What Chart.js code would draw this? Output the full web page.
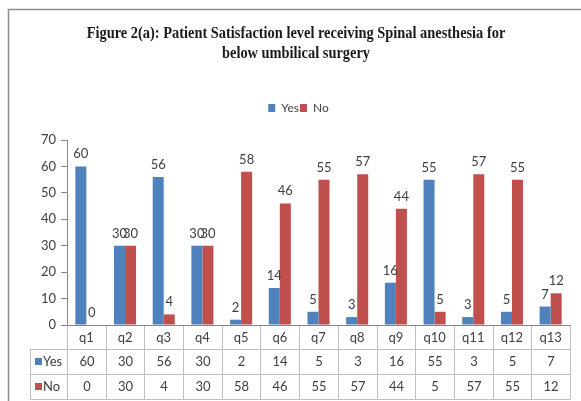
<!DOCTYPE html>
<html><head><meta charset="utf-8">
<script src="https://cdn.jsdelivr.net/npm/chart.js@4"></script>
<style>html,body{margin:0;padding:0;background:#fff}#wrap{width:581px;height:401px}</style>
</head><body><div id="wrap"><canvas id="c" width="581" height="401"></canvas></div>
<script>
const categories = ['q1','q2','q3','q4','q5','q6','q7','q8','q9','q10','q11','q12','q13'];
const yesValues = [60,30,56,30,2,14,5,3,16,55,3,5,7];
const noValues  = [0,30,4,30,58,46,55,57,44,5,57,55,12];
const seriesNames = ['Yes','No'];
const seriesColors = ['#4F81BD','#C0504D'];
const titleLines = ['Figure 2(a): Patient Satisfaction level receiving Spinal anesthesia for','below umbilical surgery'];
const yMin = 0, yMax = 70, yStep = 10;

const FONT = 'Lato';
const TEXT = '#404040';

const legendSpacer = {
  id: 'legendSpacer',
  beforeInit(chart) {
    const lg = chart.legend;
    if (!lg) return;
    const orig = lg.fit;
    lg.fit = function() { orig.call(this); this.height += 16; };
  }
};

const dataLabels = {
  id: 'dataLabels',
  afterDatasetsDraw(chart) {
    const ctx = chart.ctx;
    ctx.save();
    ctx.font = '13px ' + FONT;
    ctx.fillStyle = TEXT;
    ctx.textAlign = 'center';
    ctx.textBaseline = 'alphabetic';
    chart.data.datasets.forEach((ds, di) => {
      chart.getDatasetMeta(di).data.forEach((bar, i) => {
        ctx.fillText(String(ds.data[i]), bar.x, bar.y - 8);
      });
    });
    ctx.restore();
  }
};

const decor = {
  id: 'decor',
  afterDraw(chart) {
    const ctx = chart.ctx;
    const xs = chart.scales.x;
    const n = categories.length;
    ctx.save();
    // frame
    ctx.strokeStyle = '#8c8c8c';
    ctx.lineWidth = 1.5;
    ctx.beginPath();
    ctx.moveTo(8.5, 401); ctx.lineTo(8.5, 9.5); ctx.lineTo(581, 9.5);
    ctx.stroke();
    // title
    ctx.fillStyle = '#1a1a1a';
    ctx.font = 'bold 16px "Liberation Serif"';
    ctx.textAlign = 'center';
    ctx.textBaseline = 'alphabetic';
    const sx = 0.9;
    [38, 58].forEach((y, k) => {
      ctx.save();
      ctx.translate(296, y);
      ctx.scale(sx, 1);
      ctx.fillText(titleLines[k], 0, 0);
      ctx.restore();
    });
    // data table
    const bounds = [];
    for (let i = 0; i <= n; i++) bounds.push(Math.round(xs.getPixelForValue(i - 0.5)) + 0.5);
    const top = Math.round(xs.top);
    const r1 = Math.round(xs.bottom) + 0.5;
    const rowH = 25;
    const r2 = r1 + rowH, r3 = r2 + rowH;
    const leftCol = 30.5;
    ctx.strokeStyle = '#bfbfbf';
    ctx.lineWidth = 1;
    ctx.beginPath();
    bounds.forEach(b => { ctx.moveTo(b, top + 1); ctx.lineTo(b, r3); });
    ctx.moveTo(leftCol, r1); ctx.lineTo(leftCol, r3);
    [r1, r2, r3].forEach(y => { ctx.moveTo(leftCol, y); ctx.lineTo(bounds[n], y); });
    ctx.stroke();
    // row contents
    const rows = [yesValues, noValues];
    ctx.font = '13px ' + FONT;
    ctx.textBaseline = 'middle';
    rows.forEach((vals, r) => {
      const cy = r1 + rowH * r + rowH / 2;
      ctx.fillStyle = seriesColors[r];
      ctx.fillRect(35, Math.round(cy - 4), 7, 7);
      ctx.fillStyle = TEXT;
      ctx.textAlign = 'left';
      ctx.fillText(seriesNames[r], 43, cy);
      ctx.textAlign = 'center';
      vals.forEach((v, i) => {
        ctx.fillText(String(v), (bounds[i] + bounds[i + 1]) / 2, cy);
      });
    });
    ctx.restore();
  }
};

new Chart(document.getElementById('c'), {
  type: 'bar',
  data: {
    labels: categories,
    datasets: [
      { label: seriesNames[0], data: yesValues, backgroundColor: seriesColors[0], categoryPercentage: 0.57, barPercentage: 1.0 },
      { label: seriesNames[1], data: noValues, backgroundColor: seriesColors[1], categoryPercentage: 0.57, barPercentage: 1.0 }
    ]
  },
  options: {
    responsive: false,
    animation: false,
    devicePixelRatio: 1,
    layout: { padding: { top: 101, left: 27, right: 11, bottom: 52 } },
    plugins: {
      title: { display: false },
      tooltip: { enabled: false },
      legend: {
        display: true,
        position: 'top',
        labels: { boxWidth: 7, boxHeight: 8, padding: 1, color: TEXT, font: { family: FONT, size: 12 } }
      }
    },
    scales: {
      x: {
        grid: { display: false, drawTicks: false },
        border: { display: true, color: '#868686', width: 1 },
        ticks: { color: TEXT, font: { family: FONT, size: 13 }, padding: 5, maxRotation: 0, autoSkip: false },
        afterFit(s) { s.height = 24; }
      },
      y: {
        min: yMin, max: yMax,
        ticks: { stepSize: yStep, color: TEXT, font: { family: FONT, size: 13 }, padding: 5 },
        grid: { display: true, drawOnChartArea: false, drawTicks: true, tickLength: 6, color: '#868686' },
        border: { display: true, color: '#868686', width: 1 },
        afterFit(s) { s.width = 40; }
      }
    }
  },
  plugins: [legendSpacer, dataLabels, decor]
});
</script>
</body></html>
